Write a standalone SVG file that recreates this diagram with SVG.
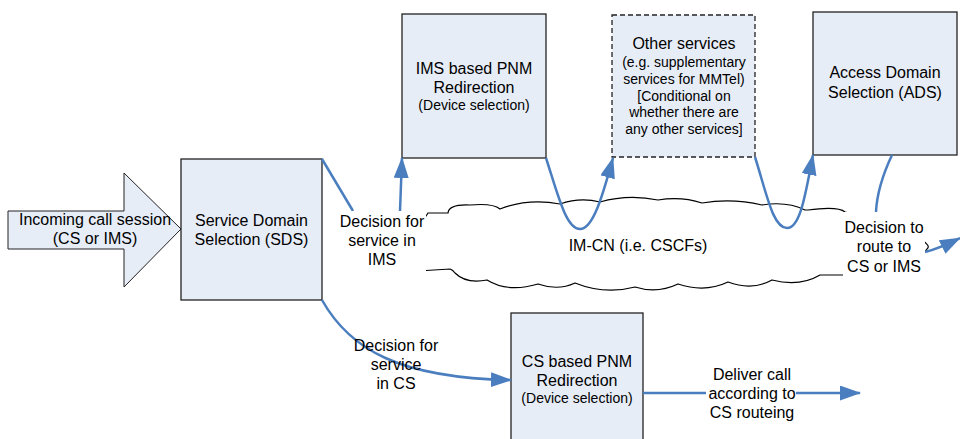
<svg xmlns="http://www.w3.org/2000/svg" width="960" height="439" viewBox="0 0 960 439">
<defs>
<style>
.box{fill:#e7edf7;stroke:#222;stroke-width:1.3}
.dash{stroke-dasharray:5,3}
.t{font-family:"Liberation Sans",Arial,sans-serif;font-size:16px;fill:#000;text-anchor:middle}
.s{font-size:14px}
.c{fill:none;stroke:#4a7ebf;stroke-width:2.5}
.bg{fill:#fff;stroke:none}
.cloud{fill:#fff;stroke:#000;stroke-width:1.2}
</style>
<marker id="ah" markerUnits="userSpaceOnUse" markerWidth="22" markerHeight="16" refX="20" refY="7.5" orient="auto">
<path d="M0,0 L21,7.5 L0,15 z" fill="#4a7ebf"/>
</marker>
</defs>
<rect width="960" height="439" fill="#fff"/>

<g id="imcn">
<path class="cloud" d="M428,213 L448,213 Q449,204 470,205 Q493,203 500,209 Q528,198 560,204 Q580,197 600,202 Q628,194 658,200 Q681,196 702,203 Q732,198 762,205 Q787,201 805,210 L808,210 Q838,206 845,212 Q858,214 862,222 Q900,226 922,240 Q931,246 927,249 Q920,262 880,270 L843,275 L820,275 Q800,287 772,280 Q752,291 728,282 Q705,293 678,284 Q657,294 635,287 Q605,295 575,283 Q558,291 538,284 Q508,293 487,280 Q466,284 455,273 Q453,270 450,269 L418,271 Q395,250 420,225 Z"/>
<text class="t" x="638" y="251">IM-CN (i.e. CSCFs)</text>
</g>

<g id="incoming">
<path class="box" d="M8,211 L124,211 L124,173 L181,229 L124,287 L124,249 L8,249 Z" style="stroke-width:1"/>
<text class="t" x="95" y="225">Incoming call session</text>
<text class="t" x="95" y="244">(CS or IMS)</text>
</g>

<g id="sds">
<rect class="box" x="181" y="159" width="141" height="141"/>
<text class="t" x="251.5" y="226">Service Domain</text>
<text class="t" x="251.5" y="245">Selection (SDS)</text>
</g>

<g id="ims-pnm">
<rect class="box" x="402" y="14" width="144" height="144"/>
<text class="t" x="474" y="74">IMS based PNM</text>
<text class="t" x="474" y="93">Redirection</text>
<text class="t s" x="474" y="110">(Device selection)</text>
</g>

<g id="other-services">
<rect class="box dash" x="612" y="15" width="143" height="142"/>
<text class="t" x="684" y="49">Other services</text>
<text class="t s" x="684" y="67">(e.g. supplementary</text>
<text class="t s" x="684" y="84">services for MMTel)</text>
<text class="t s" x="684" y="101">[Conditional on</text>
<text class="t s" x="684" y="117">whether there are</text>
<text class="t s" x="684" y="134">any other services]</text>
</g>

<g id="ads">
<rect class="box" x="813" y="12" width="144" height="143"/>
<text class="t" x="885" y="78">Access Domain</text>
<text class="t" x="885" y="98">Selection (ADS)</text>
</g>

<g id="cs-pnm">
<rect class="box" x="511" y="313" width="132" height="140"/>
<text class="t" x="577" y="367">CS based PNM</text>
<text class="t" x="577" y="386">Redirection</text>
<text class="t s" x="577" y="403">(Device selection)</text>
</g>

<g id="connectors">
<path class="c" d="M322,159 L353,211"/>
<path class="c" d="M400,211 L402,158" marker-end="url(#ah)"/>
<path class="c" d="M546,158 C558,195 566,229 580,229 C594,229 604,190 613,158" marker-end="url(#ah)"/>
<path class="c" d="M755,157 C767,195 773,228 787,228 C801,228 806,190 813,155" marker-end="url(#ah)"/>
<path class="c" d="M892,155 C884,172 877,190 876,212"/>
<path class="c" d="M925,252 Q940,248 960,238" marker-end="url(#ah)"/>
<path class="c" d="M322,300 C350,350 400,378 511,380" marker-end="url(#ah)"/>
<path class="c" d="M643,393 L860,393" marker-end="url(#ah)"/>

<g id="label-ims">
<rect class="bg" x="340" y="211" width="86" height="64"/>
<text class="t" x="382" y="227">Decision for</text>
<text class="t" x="382" y="246">service in</text>
<text class="t" x="382" y="265">IMS</text>
</g>
<g id="label-route">
<rect class="bg" x="843" y="212" width="82" height="65"/>
<text class="t" x="884" y="233">Decision to</text>
<text class="t" x="884" y="252">route to</text>
<text class="t" x="884" y="272">CS or IMS</text>
</g>
<g id="label-cs">
<text class="t" x="396" y="351">Decision for</text>
<text class="t" x="396" y="370">service</text>
<text class="t" x="396" y="389">in CS</text>
</g>
<g id="label-deliver">
<rect class="bg" x="706" y="364" width="90" height="60"/>
<text class="t" x="752" y="380">Deliver call</text>
<text class="t" x="752" y="399">according to</text>
<text class="t" x="752" y="418">CS routeing</text>
</g>
</g>
</svg>
